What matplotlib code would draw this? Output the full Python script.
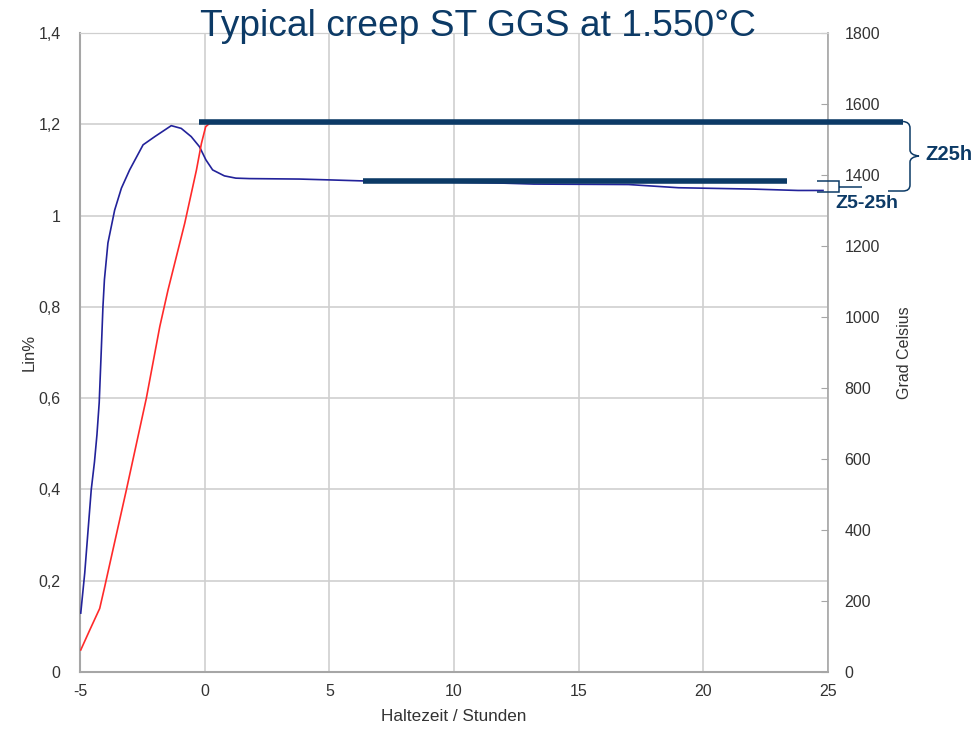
import matplotlib.pyplot as plt
from matplotlib.path import Path
from matplotlib.patches import PathPatch

plt.rcParams['font.family'] = ['Liberation Sans', 'DejaVu Sans']
plt.rcParams['axes.unicode_minus'] = False

# --- Daten ---
# Lin% (linke Achse)
t_lin = [-4.97, -4.81, -4.55, -4.42, -4.32, -4.23, -4.15, -4.08, -4.02, -3.88,
         -3.61, -3.34, -3.01, -2.47, -2.0, -1.34, -0.94, -0.54, -0.21, 0.05,
         0.32, 0.79, 1.25, 1.8, 3.8, 5.1, 6.3, 9.0, 12.0, 13.2, 17.0, 19.0,
         22.0, 23.8, 24.8]
lin = [0.129, 0.217, 0.399, 0.46, 0.52, 0.59, 0.70, 0.80, 0.86, 0.94,
       1.012, 1.06, 1.10, 1.155, 1.173, 1.197, 1.191, 1.173, 1.151, 1.122,
       1.10, 1.087, 1.082, 1.081, 1.080, 1.078, 1.076, 1.074, 1.071, 1.069,
       1.068, 1.061, 1.058, 1.055, 1.055]

# Temperatur (rechte Achse)
t_temp = [-4.97, -4.61, -4.21, -4.01, -3.74, -3.14, -2.34, -1.80, -1.47,
          -0.80, -0.33, -0.13, 0.04, 0.27, 5.0, 10.0, 15.0, 20.0, 24.8]
temp = [62, 118, 179, 240, 325, 513, 771, 973, 1076,
        1264, 1414, 1489, 1536, 1550, 1550, 1550, 1550, 1550, 1550]

# Markierungen
z25_x = [-0.24, 28.0]
z25_temp = 1550
z5_x = [6.35, 23.36]
z5_lin = 1.075

xticks = [-5, 0, 5, 10, 15, 20, 25]
yticks_left = [0, 0.2, 0.4, 0.6, 0.8, 1.0, 1.2, 1.4]
yticks_left_labels = ['0', '0,2', '0,4', '0,6', '0,8', '1', '1,2', '1,4']
yticks_right = [0, 200, 400, 600, 800, 1000, 1200, 1400, 1600, 1800]

navy = '#0c3a66'
grid_c = '#cfcfcf'
spine_c = '#a6a6a6'
text_c = '#333333'

fig = plt.figure(figsize=(9.77, 7.29), dpi=100)
ax = fig.add_axes([80/977, 57/729, 748/977, 639/729])
ax2 = ax.twinx()

ax.plot(t_lin, lin, color='#22229a', lw=1.2, zorder=3)
ax2.plot(t_temp, temp, color='#ff2a2a', lw=1.2, zorder=3)

ax.set_xlim(-5, 25)
ax.set_ylim(0, 1.4)
ax2.set_ylim(0, 1800)
ax.set_xticks(xticks)
ax.set_yticks(yticks_left)
ax.set_yticklabels(yticks_left_labels)
ax2.set_yticks(yticks_right)

ax.grid(True, color=grid_c, lw=1.2)
ax.set_axisbelow(True)
ax.tick_params(axis='both', length=0, labelsize=11.5, colors=text_c)
ax.tick_params(axis='y', pad=14)
ax.tick_params(axis='x', pad=9)
ax2.tick_params(axis='y', direction='in', length=5, color=spine_c,
                labelsize=11.5, labelcolor=text_c, pad=12)

for s in ['left', 'bottom']:
    ax.spines[s].set_color(spine_c)
    ax.spines[s].set_linewidth(1.5)
ax2.spines['left'].set_visible(False)
ax2.spines['bottom'].set_visible(False)
ax2.spines['right'].set_color(spine_c)
ax2.spines['right'].set_linewidth(1.2)
ax2.spines['top'].set_color(grid_c)
ax.spines['top'].set_color(grid_c)
ax.spines['right'].set_visible(False)

ax.set_xlabel('Haltezeit / Stunden', fontsize=12.3, color=text_c, labelpad=7)
ax.set_ylabel('Lin%', fontsize=12, color=text_c, labelpad=1)
ax2.set_ylabel('Grad Celsius', fontsize=11.5, color=text_c, labelpad=12)

# dicke Linien
ax2.plot(z25_x, [z25_temp, z25_temp], color=navy, lw=4, solid_capstyle='butt',
         clip_on=False, zorder=5)
ax.plot(z5_x, [z5_lin, z5_lin], color=navy, lw=4, solid_capstyle='butt',
        zorder=5)

# Klammern in Pixelkoordinaten (y von oben)
H = 729


def px(x, y):
    return (x, H - y)


brace = [px(903, 121.5), px(910, 122), px(910, 128), px(910, 150),
         px(910, 155), px(919, 156), px(910, 157), px(910, 162),
         px(910, 185), px(910, 191), px(903, 191), px(888, 191)]
codes = [Path.MOVETO, Path.CURVE3, Path.CURVE3, Path.LINETO,
         Path.CURVE3, Path.CURVE3, Path.CURVE3, Path.CURVE3,
         Path.LINETO, Path.CURVE3, Path.CURVE3, Path.LINETO]
fig.patches.append(PathPatch(Path(brace, codes), fill=False, edgecolor=navy,
                             lw=1.1, transform=None))

bracket = [px(817, 181), px(839, 181), px(839, 192), px(817, 192),
           px(839, 187), px(862, 187)]
bcodes = [Path.MOVETO, Path.LINETO, Path.LINETO, Path.LINETO,
          Path.MOVETO, Path.LINETO]
fig.patches.append(PathPatch(Path(bracket, bcodes), fill=False,
                             edgecolor=navy, lw=1.1, transform=None))

fig.text(949/977, 1 - 155/729, 'Z25h', color=navy, fontsize=14.5,
         fontweight='bold', ha='center', va='center')
fig.text(867/977, 1 - 203/729, 'Z5-25h', color=navy, fontsize=14,
         fontweight='bold', ha='center', va='center')

fig.text(478/977, 1 - 36/729, 'Typical creep ST GGS at 1.550°C',
         color=navy, fontsize=26.7, ha='center', va='baseline')

fig.savefig('out.png', dpi=100)
